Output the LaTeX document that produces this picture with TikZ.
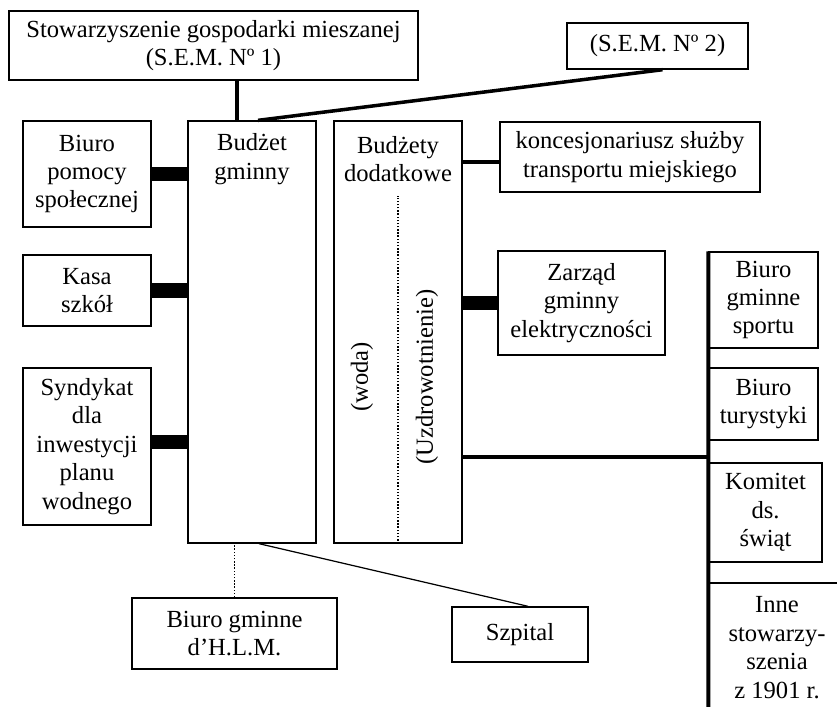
\documentclass[tikz,border=0pt]{standalone}
\usepackage{fontspec}
\setmainfont{Liberation Serif}
\begin{document}
\begin{tikzpicture}[x=0.02cm, y=-0.02cm, font=\fontsize{14}{16.2}\selectfont,
	box/.style={draw, line width=0.8pt, align=center, inner sep=0pt},
	bar/.style={line width=8pt},
	link/.style={line width=2pt},
	thin link/.style={line width=0.7pt},
	guide/.style={densely dotted, line width=0.8pt}]
	\useasboundingbox (0,0) rectangle (837,706);
	\clip (0,0) rectangle (837,706);
	\node[box, minimum width=8.18cm, minimum height=1.38cm] (SEM1) at (213.5,45.5) {Stowarzyszenie gospodarki mieszanej\\(S.E.M. Nº 1)};
	\node[box, minimum width=3.62cm, minimum height=0.92cm] (SEM2) at (657.5,46) {(S.E.M. Nº 2)};
	\node[box, minimum width=2.56cm, minimum height=2.12cm] (BP) at (87,174) {Biuro\\pomocy\\społecznej};
	\node[box, minimum width=2.56cm, minimum height=1.42cm] (KS) at (87,290.5) {Kasa\\szkół};
	\node[box, minimum width=2.56cm, minimum height=3.14cm] (SY) at (87,446.5) {Syndykat\\dla\\inwestycji\\planu\\wodnego};
	\node[box, minimum width=2.56cm, minimum height=8.44cm] (BG) at (252,332) {};
	\node[align=center] (BGt) at (252,159) {Budżet\\gminny};
	\node[box, minimum width=2.56cm, minimum height=8.44cm] (BD) at (398,332) {};
	\node[align=center] (BDt) at (398,159) {Budżety\\dodatkowe};
	\node[rotate=90] (woda) at (362,377) {(woda)};
	\node[rotate=90] (uzdr) at (427,377) {(Uzdrowotnienie)};
	\node[box, minimum width=5.2cm, minimum height=1.4cm] (KT) at (630,157) {koncesjonariusz służby\\transportu miejskiego};
	\node[box, minimum width=3.34cm, minimum height=2.08cm] (ZG) at (581.5,303) {Zarząd\\gminny\\elektryczności};
	\node[box, minimum width=2.18cm, minimum height=1.92cm] (BS) at (763.5,300) {Biuro\\gminne\\sportu};
	\node[box, minimum width=2.18cm, minimum height=1.44cm] (BT) at (763.5,404) {Biuro\\turystyki};
	\node[box, minimum width=2.26cm, minimum height=1.98cm] (KO) at (765.5,512.5) {Komitet\\ds.\\świąt};
	\node[box, minimum width=2.72cm, minimum height=2.58cm] (IS) at (777,647.5) {Inne\\stowarzy-\\szenia\\z 1901 r.};
	\node[box, minimum width=4.1cm, minimum height=1.42cm] (HLM) at (234.5,633.5) {Biuro gminne\\d’H.L.M.};
	\node[box, minimum width=2.72cm, minimum height=1.1cm] (SZ) at (520,634.5) {Szpital};
	\coordinate (J) at (709,457);
	% gora
	\draw[link] ([xshift=-0.3cm]BG.north) -- ([xshift=-0.3cm]BG.north |- SEM1.south);
	\draw[link] ([xshift=0.12cm]BG.north) -- ([xshift=0.1cm]SEM2.south);
	% lewa strona
	\draw[bar] (BP.east) -- (BP.east -| BG.west);
	\draw[bar] (KS.east) -- (KS.east -| BG.west);
	\draw[bar] ([yshift=0.09cm]SY.east) -- ([yshift=0.09cm]SY.east -| BG.west);
	% prawa strona
	\draw[link] ([yshift=-0.1cm]KT.west -| BD.east) -- ([yshift=-0.1cm]KT.west);
	\draw[bar] (ZG.west -| BD.east) -- (ZG.west);
	\draw[link] (BD.east |- J) -- (J);
	\draw[line width=2.2pt] (BS.north west) -- (IS.south west);
	% dol
	\draw[guide] (BD.south) -- ++(0,-348);
	\draw[guide] (HLM.north) -- (HLM.north |- BG.south);
	\draw[thin link] ([xshift=0.14cm]BG.south) -- ([xshift=0.16cm]SZ.north);
\end{tikzpicture}
\end{document}
